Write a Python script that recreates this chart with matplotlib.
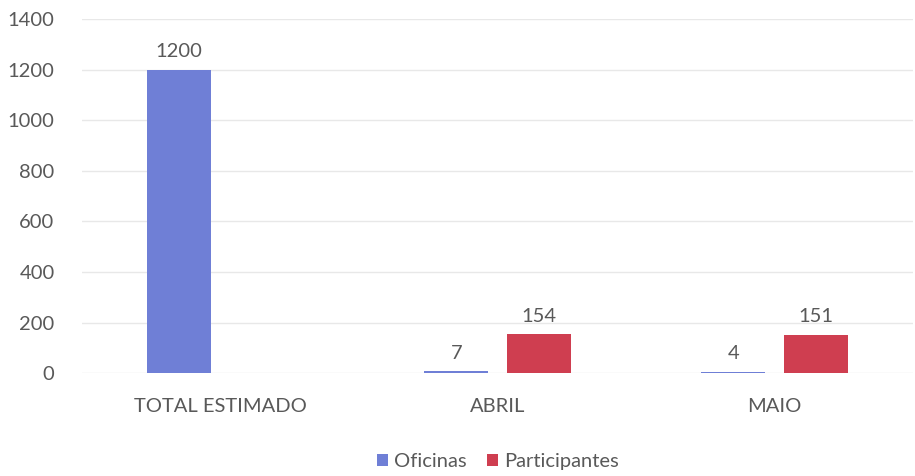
import numpy as np
import matplotlib.pyplot as plt

plt.rcParams['font.family'] = ['Lato', 'DejaVu Sans']

categories = ['TOTAL ESTIMADO', 'ABRIL', 'MAIO']
oficinas = [1200, 7, 4]
participantes = [np.nan, 154, 151]

text_color = '#595959'
blue = '#6f7fd6'
red = '#cf3e50'
fs = 14.5

fig = plt.figure(figsize=(9.15, 4.76), dpi=100)
ax = fig.add_axes([0.09, 0.216, 0.908, 0.744])

x = np.arange(len(categories))
width = 0.23
off = 0.15

b1 = ax.bar(x - off, oficinas, width, color=blue, label='Oficinas', zorder=3)
b2 = ax.bar(x + off, participantes, width, color=red, label='Participantes', zorder=3)

for rect, v in zip(b1, oficinas):
    ax.annotate(f'{v}', (rect.get_x() + rect.get_width() / 2, v),
                xytext=(0, 7), textcoords='offset points', ha='center', va='bottom',
                fontsize=fs, color=text_color)
for rect, v in zip(b2, participantes):
    if np.isnan(v):
        continue
    ax.annotate(f'{v:.0f}', (rect.get_x() + rect.get_width() / 2, v),
                xytext=(0, 7), textcoords='offset points', ha='center', va='bottom',
                fontsize=fs, color=text_color)

ax.set_xlim(-0.5, 2.5)
ax.set_ylim(0, 1400)
ax.set_yticks(range(0, 1401, 200))
ax.set_xticks(x)
ax.set_xticklabels(categories)
ax.tick_params(axis='both', length=0, labelsize=fs, colors=text_color)
ax.tick_params(axis='x', pad=18)
ax.tick_params(axis='y', pad=20)
ax.grid(axis='y', color='#e8e8e8', linewidth=1, zorder=0)
for s in ax.spines.values():
    s.set_visible(False)

ax.legend(loc='upper center', bbox_to_anchor=(0.5, -0.175), ncol=2, frameon=False,
          fontsize=fs, labelcolor=text_color, handlelength=0.55, handleheight=0.55,
          handletextpad=0.3, columnspacing=1.0)

fig.savefig('out.png', dpi=100)
